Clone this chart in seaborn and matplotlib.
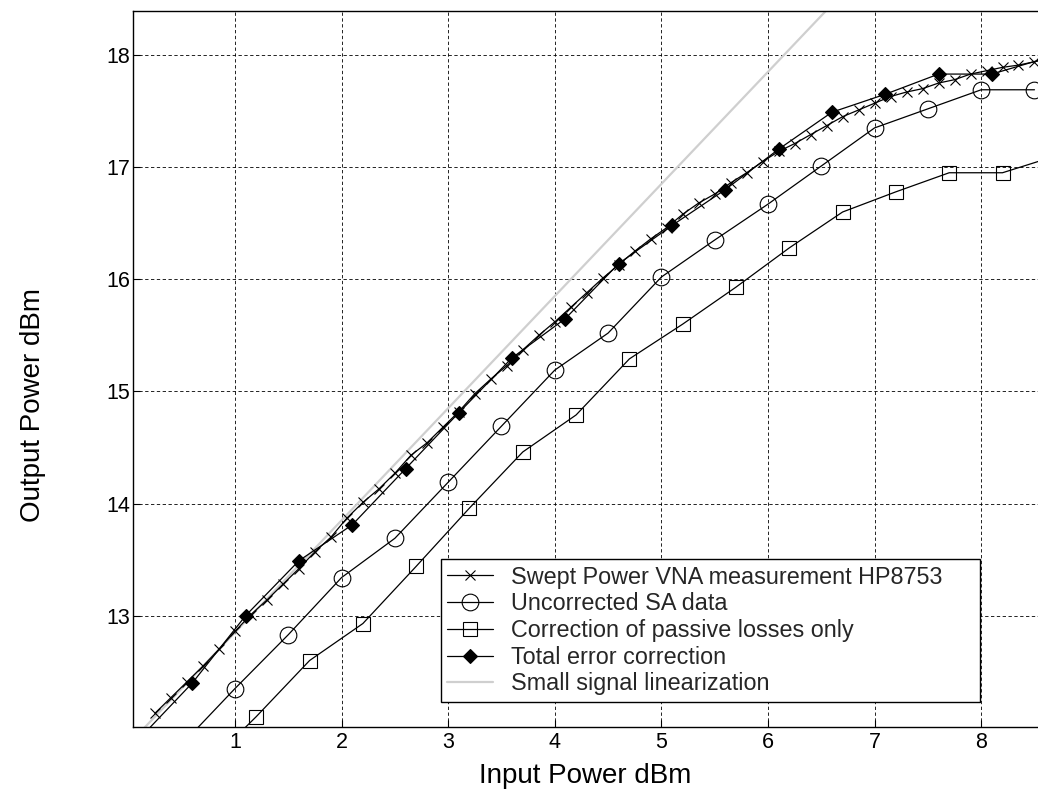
import numpy as np
import pandas as pd
import matplotlib
matplotlib.use("Agg")
import matplotlib.pyplot as plt
import seaborn as sns

# ---------------- data ----------------
swept_x = [0.25, 0.40, 0.55, 0.70, 0.85, 1.00, 1.15, 1.30, 1.45, 1.60, 1.75, 1.90,
           2.05, 2.20, 2.35, 2.50, 2.65, 2.80, 2.95, 3.10, 3.25, 3.40, 3.55, 3.70,
           3.85, 4.00, 4.15, 4.30, 4.45, 4.60, 4.75, 4.90, 5.05, 5.20, 5.35, 5.50,
           5.65, 5.80, 5.95, 6.10, 6.25, 6.40, 6.55, 6.70, 6.85, 7.00, 7.15, 7.30,
           7.45, 7.60, 7.75, 7.90, 8.05, 8.20, 8.35, 8.50, 8.65]
swept_y = [12.13, 12.27, 12.41, 12.55, 12.70, 12.86, 13.01, 13.14, 13.28, 13.42, 13.57, 13.70,
           13.87, 14.01, 14.13, 14.27, 14.43, 14.54, 14.68, 14.82, 14.98, 15.11, 15.23, 15.37,
           15.50, 15.62, 15.75, 15.88, 16.01, 16.13, 16.25, 16.36, 16.46, 16.58, 16.68, 16.76,
           16.86, 16.95, 17.05, 17.14, 17.21, 17.29, 17.37, 17.45, 17.51, 17.57, 17.63, 17.67,
           17.70, 17.75, 17.78, 17.83, 17.86, 17.89, 17.91, 17.94, 17.97]

sa_x = [0.5, 1.0, 1.5, 2.0, 2.5, 3.0, 3.5, 4.0, 4.5, 5.0, 5.5, 6.0, 6.5, 7.0, 7.5, 8.0, 8.5]
sa_y = [11.85, 12.35, 12.83, 13.34, 13.69, 14.19, 14.69, 15.19, 15.52, 16.02, 16.35, 16.67,
        17.01, 17.35, 17.52, 17.69, 17.69]

pas_x = [0.7, 1.2, 1.7, 2.2, 2.7, 3.2, 3.7, 4.2, 4.7, 5.2, 5.7, 6.2, 6.7, 7.2, 7.7, 8.2, 8.7]
pas_y = [11.63, 12.10, 12.60, 12.93, 13.44, 13.96, 14.46, 14.79, 15.29, 15.60, 15.93, 16.28,
         16.60, 16.78, 16.95, 16.95, 17.10]

tot_x = [0.1, 0.6, 1.1, 1.6, 2.1, 2.6, 3.1, 3.6, 4.1, 4.6, 5.1, 5.6, 6.1, 6.6, 7.1, 7.6, 8.1, 8.6]
tot_y = [11.90, 12.40, 13.00, 13.49, 13.81, 14.31, 14.81, 15.30, 15.65, 16.14, 16.48, 16.80,
         17.16, 17.49, 17.65, 17.83, 17.83, 17.97]

lin_x = [0.0, 7.0]
lin_y = [11.85, 18.85]

labels = ["Swept Power VNA measurement HP8753",
          "Uncorrected SA data",
          "Correction of passive losses only",
          "Total error correction",
          "Small signal linearization"]

x_ticks = [1, 2, 3, 4, 5, 6, 7, 8]
y_ticks = [13, 14, 15, 16, 17, 18]

# ---------------- style ----------------
sns.set_theme(style="white")
plt.rcParams["font.family"] = ["Liberation Sans", "DejaVu Sans"]

fig = plt.figure(figsize=(10.38, 7.89), dpi=100)
ax = fig.add_axes([0.1284, 0.079, 0.8716, 0.9067])

lw = 0.9
common = dict(ax=ax, color="black", linewidth=lw, sort=False, estimator=None)

sns.lineplot(x=lin_x, y=lin_y, ax=ax, color="#cfcfcf", linewidth=1.6, sort=False,
             estimator=None, label=labels[4], zorder=1)
sns.lineplot(x=swept_x, y=swept_y, marker="x", markersize=7.5, mec="black", mew=0.8,
             label=labels[0], zorder=3, **common)
sns.lineplot(x=sa_x, y=sa_y, marker="o", markersize=12, mfc="none", mec="black", mew=0.8,
             label=labels[1], zorder=3, **common)
sns.lineplot(x=pas_x, y=pas_y, marker="s", markersize=10, mfc="none", mec="black", mew=0.8,
             label=labels[2], zorder=3, **common)
sns.lineplot(x=tot_x, y=tot_y, marker="D", markersize=7.5, mfc="black", mec="black", mew=0.8,
             label=labels[3], zorder=4, **common)

ax.set_xlim(0.046, 8.533)
ax.set_ylim(12.01, 18.39)
ax.set_xticks(x_ticks)
ax.set_yticks(y_ticks)
ax.set_xticklabels([str(t) for t in x_ticks])
ax.set_yticklabels([str(t) for t in y_ticks])

ax.grid(True, color="black", linestyle=(0, (4, 3)), linewidth=0.6)
ax.set_axisbelow(True)
for side in ["left", "bottom", "top"]:
    ax.spines[side].set_color("black")
    ax.spines[side].set_linewidth(1.0)
ax.spines["right"].set_visible(False)

ax.tick_params(axis="both", direction="in", length=5, width=0.8, color="black",
               labelsize=15.5, labelcolor="black", pad=4)
ax.tick_params(axis="y", pad=2)
ax.tick_params(top=False, right=False, bottom=True, left=True)

ax.set_xlabel("Input Power dBm", fontsize=20, color="black", labelpad=7)
ax.set_ylabel("Output Power dBm", fontsize=20, color="black")
ax.yaxis.set_label_coords(-0.097, 0.45)

handles, labs = ax.get_legend_handles_labels()
order = [labs.index(l) for l in labels]
leg = ax.legend([handles[i] for i in order], [labs[i] for i in order],
                loc="upper left",
                bbox_to_anchor=(440.7 / 1038, 1 - 703 / 789, 539 / 1038, 144 / 789),
                bbox_transform=fig.transFigure, mode="expand",
                fontsize=16.8, frameon=True, fancybox=False, shadow=False,
                framealpha=1, edgecolor="black", borderaxespad=0,
                handlelength=1.95, handletextpad=0.8, borderpad=0.28, labelspacing=0.16)
leg.get_frame().set_linewidth(1.0)

fig.savefig("out.png", dpi=100)
